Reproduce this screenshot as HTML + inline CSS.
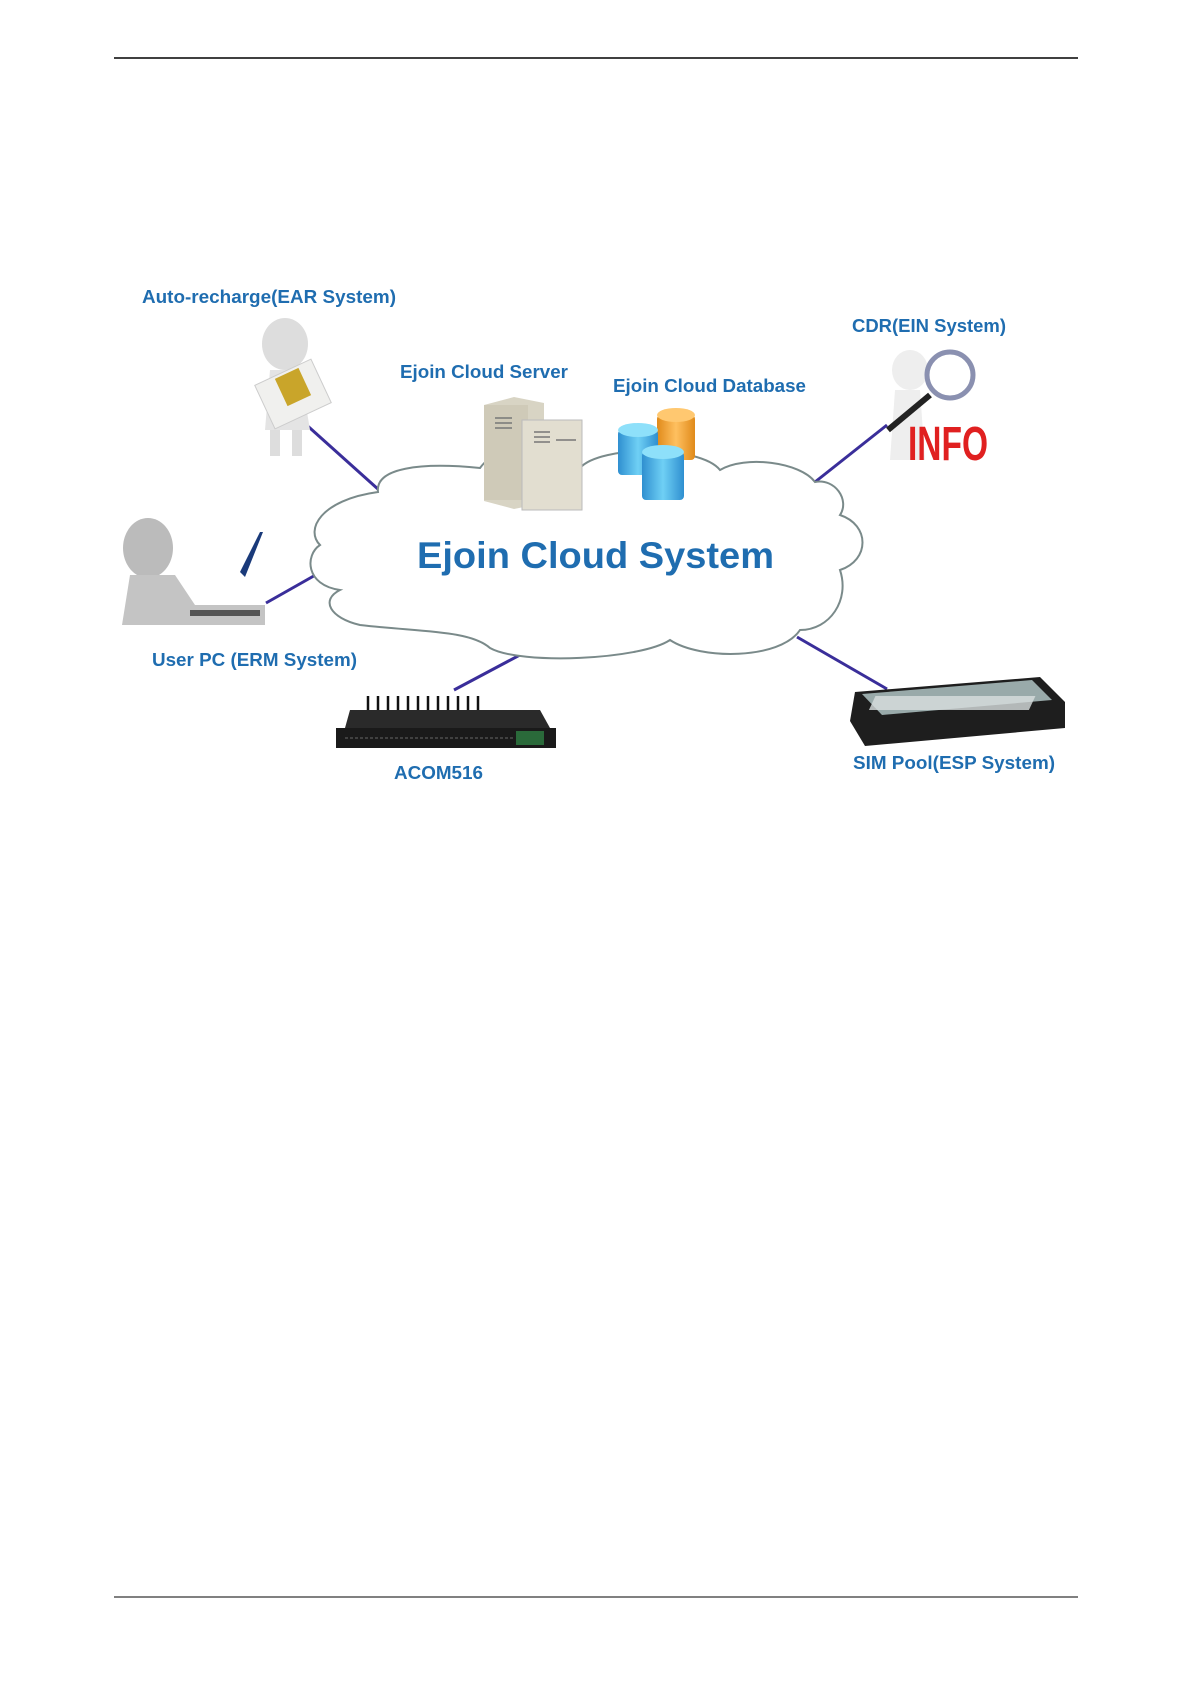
<!DOCTYPE html>
<html><head><meta charset="utf-8"><style>
html,body{margin:0;padding:0;background:#fff;}
svg{display:block}
text{font-family:"Liberation Sans",sans-serif;font-weight:bold;fill:#1f6db0}
</style></head><body>
<svg width="1194" height="1686" viewBox="0 0 1194 1686" xmlns="http://www.w3.org/2000/svg">
<defs>
<linearGradient id="bl" x1="0" x2="1"><stop offset="0" stop-color="#2f8fd0"/><stop offset=".5" stop-color="#6fd0f5"/><stop offset="1" stop-color="#2f8fd0"/></linearGradient>
<linearGradient id="or" x1="0" x2="1"><stop offset="0" stop-color="#e08a1a"/><stop offset=".5" stop-color="#ffc060"/><stop offset="1" stop-color="#e08a1a"/></linearGradient>
<linearGradient id="gr" x1="0" x2="1"><stop offset="0" stop-color="#888"/><stop offset=".5" stop-color="#ddd"/><stop offset="1" stop-color="#999"/></linearGradient>
</defs>
<line x1="114" y1="58" x2="1078" y2="58" stroke="#000" stroke-width="1.5"/>
<line x1="114" y1="1597" x2="1078" y2="1597" stroke="#000" stroke-width="1"/>
<!-- connectors -->
<g stroke="#3a2e9a" stroke-width="3">
<line x1="301" y1="420" x2="379" y2="490"/>
<line x1="815" y1="482" x2="887" y2="425"/>
<line x1="266" y1="603" x2="319" y2="573"/>
<line x1="454" y1="690" x2="533" y2="648"/>
<line x1="797" y1="637" x2="887" y2="689"/>
</g>
<!-- cloud -->
<path d="M378,492 C375,468 420,462 480,468 C500,440 560,440 580,468 C600,445 700,445 720,470 C745,455 800,462 815,482 C835,478 850,500 840,515 C870,525 870,560 840,570 C850,600 830,630 800,630 C780,660 700,660 670,640 C640,660 520,665 490,648 C470,630 420,632 360,625 C330,618 320,600 340,590 C305,585 305,555 320,545 C305,530 320,500 378,492 Z" fill="#fff" stroke="#7a8a8a" stroke-width="2"/>
<text x="417" y="568" font-size="37" textLength="357" lengthAdjust="spacingAndGlyphs">Ejoin Cloud System</text>
<!-- labels -->
<text x="142" y="303" font-size="18" textLength="254" lengthAdjust="spacingAndGlyphs">Auto-recharge(EAR System)</text>
<text x="400" y="378" font-size="18" textLength="168" lengthAdjust="spacingAndGlyphs">Ejoin Cloud Server</text>
<text x="613" y="392" font-size="18" textLength="193" lengthAdjust="spacingAndGlyphs">Ejoin Cloud Database</text>
<text x="852" y="332" font-size="18" textLength="154" lengthAdjust="spacingAndGlyphs">CDR(EIN System)</text>
<text x="152" y="666" font-size="18" textLength="205" lengthAdjust="spacingAndGlyphs">User PC (ERM System)</text>
<text x="394" y="779" font-size="18" textLength="89" lengthAdjust="spacingAndGlyphs">ACOM516</text>
<text x="853" y="769" font-size="18" textLength="202" lengthAdjust="spacingAndGlyphs">SIM Pool(ESP System)</text>
<!-- EAR person -->
<ellipse cx="285" cy="344" rx="23" ry="26" fill="#ddd"/>
<path d="M270,370 h30 l10,60 h-45 z" fill="#e4e4e4"/>
<rect x="262" y="370" width="62" height="48" fill="#f0f0ee" stroke="#ccc" transform="rotate(-25 293 394)"/>
<rect x="280" y="372" width="26" height="30" fill="#c9a52a" transform="rotate(-25 293 387)"/>
<rect x="270" y="430" width="10" height="26" fill="#ddd"/><rect x="292" y="430" width="10" height="26" fill="#ddd"/>
<!-- servers -->
<path d="M484,405 l30,-8 l30,6 v100 l-30,6 l-30,-8 z" fill="#d8d4c4"/>
<rect x="484" y="405" width="44" height="95" fill="#cfcab8"/>
<rect x="522" y="420" width="60" height="90" fill="#e2ded0" stroke="#bbb"/>
<g stroke="#777" stroke-width="1.5"><line x1="495" y1="418" x2="512" y2="418"/><line x1="495" y1="423" x2="512" y2="423"/><line x1="495" y1="428" x2="512" y2="428"/><line x1="534" y1="432" x2="550" y2="432"/><line x1="534" y1="437" x2="550" y2="437"/><line x1="534" y1="442" x2="550" y2="442"/><line x1="556" y1="440" x2="576" y2="440"/></g>
<!-- DB -->
<rect x="657" y="415" width="38" height="45" rx="4" fill="url(#or)"/><ellipse cx="676" cy="415" rx="19" ry="7" fill="#ffc870"/>
<rect x="618" y="430" width="40" height="45" rx="4" fill="url(#bl)"/><ellipse cx="638" cy="430" rx="20" ry="7" fill="#8ee0fa"/>
<rect x="642" y="452" width="42" height="48" rx="4" fill="url(#bl)"/><ellipse cx="663" cy="452" rx="21" ry="7" fill="#8ee0fa"/>
<!-- INFO -->
<ellipse cx="910" cy="370" rx="18" ry="20" fill="#eee"/>
<path d="M895,390 h25 l5,70 h-35 z" fill="#eee"/>
<circle cx="950" cy="375" r="23" fill="none" stroke="#8a90b0" stroke-width="5"/>
<line x1="888" y1="430" x2="930" y2="395" stroke="#222" stroke-width="6"/>
<text x="908" y="460" font-size="48" style="fill:#e02020" textLength="80" lengthAdjust="spacingAndGlyphs">INFO</text>
<!-- PC person -->
<ellipse cx="148" cy="548" rx="25" ry="30" fill="#bbb"/>
<path d="M130,575 h45 l20,30 h70 v20 h-143 z" fill="#c4c4c4"/>
<path d="M240,572 l20,-40 l3,0 l-18,45 z" fill="#1a3a7a"/>
<rect x="190" y="610" width="70" height="6" fill="#555"/>
<!-- ACOM516 -->
<g stroke="#111" stroke-width="2.5"><line x1="368" y1="712" x2="368" y2="696"/><line x1="378" y1="712" x2="378" y2="696"/><line x1="388" y1="712" x2="388" y2="696"/><line x1="398" y1="712" x2="398" y2="696"/><line x1="408" y1="712" x2="408" y2="696"/><line x1="418" y1="712" x2="418" y2="696"/><line x1="428" y1="712" x2="428" y2="696"/><line x1="438" y1="712" x2="438" y2="696"/><line x1="448" y1="712" x2="448" y2="696"/><line x1="458" y1="712" x2="458" y2="696"/><line x1="468" y1="712" x2="468" y2="696"/><line x1="478" y1="712" x2="478" y2="696"/></g>
<path d="M350,710 h190 l10,18 h-205 z" fill="#2a2a2a"/>
<rect x="336" y="728" width="220" height="20" fill="#1a1a1a"/>
<line x1="345" y1="738" x2="515" y2="738" stroke="#666" stroke-dasharray="3 2"/>
<rect x="516" y="731" width="28" height="14" fill="#2a6a3a"/>
<!-- SIM pool -->
<path d="M855,692 l185,-15 l25,25 v26 l-200,18 l-15,-25 z" fill="#1e1e1e"/>
<path d="M862,694 l170,-14 l20,20 l-170,15 z" fill="#9aa"/>
<g fill="#d8dede"><rect x="870" y="696" width="160" height="14" transform="skewX(-25) translate(330 0)" opacity=".8"/></g>
</svg>
</body></html>
